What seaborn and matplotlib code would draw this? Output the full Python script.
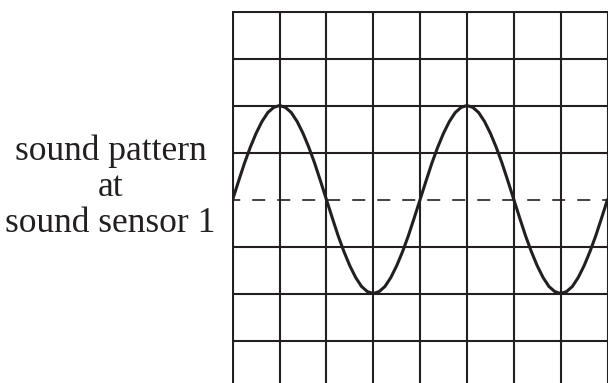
import numpy as np
import pandas as pd
import matplotlib
matplotlib.use("Agg")
import matplotlib.pyplot as plt
import seaborn as sns

# wave, in grid divisions (8 columns, amplitude 2 rows)
wave_y = [0, 0.39, 0.77, 1.11, 1.41, 1.66, 1.85, 1.96, 2, 1.96, 1.85, 1.66, 1.41, 1.11, 0.77, 0.39,
          0, -0.39, -0.77, -1.11, -1.41, -1.66, -1.85, -1.96, -2, -1.96, -1.85, -1.66, -1.41, -1.11, -0.77, -0.39,
          0, 0.39, 0.77, 1.11, 1.41, 1.66, 1.85, 1.96, 2, 1.96, 1.85, 1.66, 1.41, 1.11, 0.77, 0.39,
          0, -0.39, -0.77, -1.11, -1.41, -1.66, -1.85, -1.96, -2, -1.96, -1.85, -1.66, -1.41, -1.11, -0.77, -0.39,
          0]
wave_x = np.linspace(0, 8, len(wave_y))
grid_cols = list(range(0, 9))
grid_rows = [-4, -3, -2, -1, 1, 2, 3, 4]
label_lines = ["sound pattern", "at", "sound sensor 1"]

df = pd.DataFrame({"t": wave_x, "v": wave_y})

sns.set_style("white")
plt.rcParams["font.family"] = ["Liberation Serif", "DejaVu Serif"]

W, H = 608, 383
fig = plt.figure(figsize=(W / 100, H / 100), dpi=100)

# pixel geometry of the grid
x0, y0 = 232.7, 199.5   # left edge, centre line (from top)
cw, rh = 46.85, 47.0
pad = 0.02
left = x0 - pad * cw
top = y0 - 4 * rh - pad * rh
ax = fig.add_axes([left / W, 0, (W - left) / W, (H - top) / H])
ax.set_xlim(-pad, (W - x0) / cw)
ax.set_ylim(-(H - y0) / rh, 4 + pad)

ink = "#231f20"
for c in grid_cols:
    ax.axvline(c, color=ink, lw=1.5, zorder=1)
for r in grid_rows:
    ax.axhline(r, color=ink, lw=1.5, zorder=1)
ax.axhline(0, color=ink, lw=1.2, linestyle=(2.86, (7.8, 7.2)), zorder=1)

sns.lineplot(data=df, x="t", y="v", ax=ax, color=ink, lw=2.2, zorder=3)

ax.set_xticks([])
ax.set_yticks([])
ax.set_xlabel("")
ax.set_ylabel("")
for s in ax.spines.values():
    s.set_visible(False)

baselines = [160, 196.5, 232]
for txt, b in zip(label_lines, baselines):
    fig.text(110.5 / W, 1 - b / H, txt, ha="center", va="baseline",
             fontsize=25.5, color=ink)

fig.savefig("out.png", dpi=100)
